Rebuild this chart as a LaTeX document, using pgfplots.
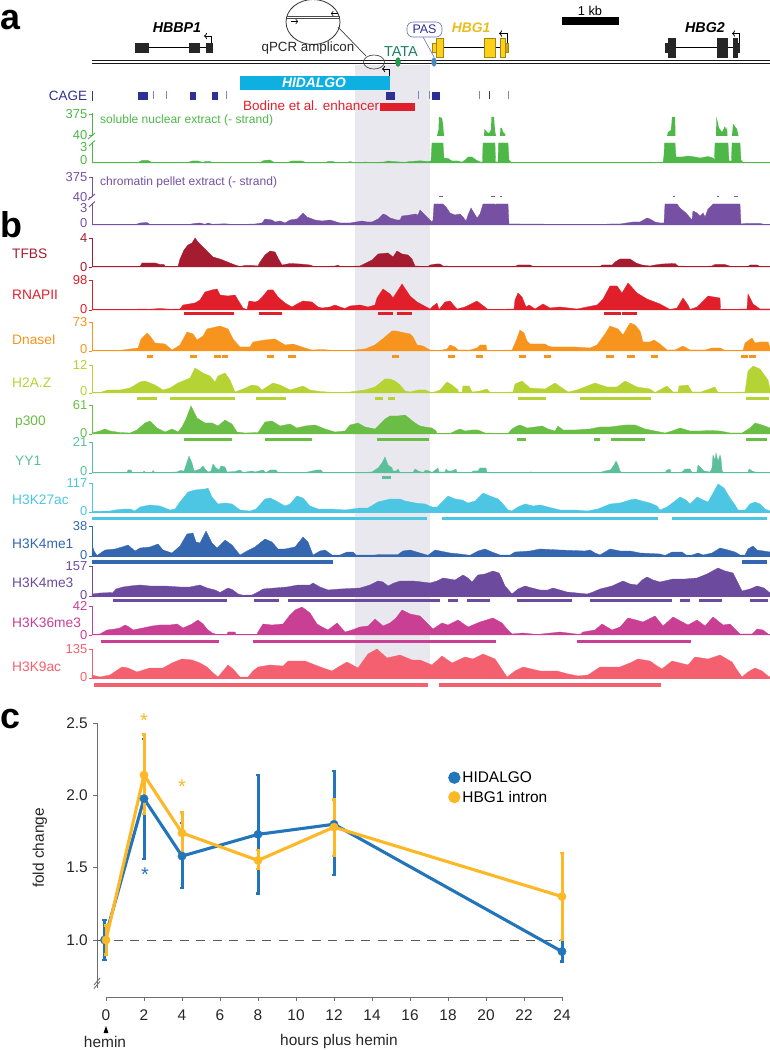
\documentclass[border=0pt]{standalone}
\usepackage{fontspec}
\setmainfont{Liberation Sans}
\usepackage{pgfplots}
\pgfplotsset{compat=1.18}
\usetikzlibrary{arrows.meta}

\definecolor{band}{HTML}{E8E8EE}
\definecolor{navy}{HTML}{2E3192}
\definecolor{cgreen}{HTML}{4DB848}
\definecolor{cpurple}{HTML}{7650A2}
\definecolor{ctfbs}{HTML}{A51C30}
\definecolor{crna}{HTML}{E01F2A}
\definecolor{cdnase}{HTML}{F7941D}
\definecolor{ch2az}{HTML}{B5D334}
\definecolor{cp300}{HTML}{6ABD45}
\definecolor{cyy1}{HTML}{5BBF9B}
\definecolor{ck27}{HTML}{4CC6E3}
\definecolor{cme1}{HTML}{3567B0}
\definecolor{cme3}{HTML}{6C4A9E}
\definecolor{ck36}{HTML}{C93F94}
\definecolor{ck9}{HTML}{F4606F}
\definecolor{hblue}{HTML}{2274BB}
\definecolor{hyell}{HTML}{FDB827}
\definecolor{axgray}{HTML}{6D6E71}
\definecolor{gold}{HTML}{FCD116}
\definecolor{goldt}{HTML}{E8BE1E}
\definecolor{ggreen}{HTML}{1F7F63}
\definecolor{hidal}{HTML}{0DB0E0}

\newcommand{\fs}[1]{\fontsize{#1}{#1}\selectfont}
% pixel canvas helpers, y counted from the top of the page
\newcommand{\rect}[6]{\addplot[fill=#1,draw=#6,line width=.4bp] coordinates {(#2,#3)(#4,#3)(#4,#5)(#2,#5)} --cycle;}
\newcommand{\seg}[2][black]{\addplot[#1] coordinates {#2};}
\newcommand{\txt}[4][]{\node[inner sep=0,#1] at (axis cs:#2,#3) {#4};}
\newcommand{\tname}[4]{\node[anchor=west,inner sep=0,text=#1,font=\fs{13.8}] at (axis cs:#2,#3) {#4};}

% one signal track: colour, baseline y, height, top label, lift of top label, lift of the 0, signal, peak bars
\newcommand{\track}[8]{%
\begin{axis}[at={(92bp,{(1050-#2)*1bp})},anchor=south west,scale only axis,
  width=678bp,height=#3bp,xmin=92,xmax=770,ymin=0,ymax=#3,clip=false,
  axis y line=left,axis x line=bottom,xtick=\empty,
  ytick={0,#3},yticklabels={\raisebox{#6bp}{0},\raisebox{#5bp}{#4}},tick align=outside,major tick length=3bp,
  tick style={draw=#1,line width=.8bp},
  axis line style={draw=#1,line width=1bp,-},
  yticklabel style={font=\fs{13},text=#1,inner xsep=1.5bp},
  unbounded coords=jump]
\addplot[fill=#1,draw=#1,line width=.3bp] coordinates {#7} \closedcycle;
\addplot[draw=#1,line width=3bp] coordinates {#8};
\end{axis}}

\begin{document}
\begin{tikzpicture}[x=1bp,y=1bp]
\path[use as bounding box] (0,0) rectangle (770bp,1050bp);

% --- canvas: band, gene models, labels
\begin{axis}[at={(0,0)},anchor=south west,scale only axis,width=770bp,height=1050bp,
  xmin=0,xmax=770,ymin=0,ymax=1050,y dir=reverse,hide axis,clip=false]
\addplot[fill=band,draw=none] coordinates {(355,65)(430,65)(430,678)(355,678)} --cycle;

\txt[anchor=base west,font=\fs{36}\bfseries]{0}{29}{a}
\txt[anchor=base west,font=\fs{36}\bfseries]{0}{237}{b}
\txt[anchor=base west,font=\fs{36}\bfseries]{0}{728}{c}

% chromosome
\seg[black!90,line width=1.1bp]{(92,60.3)(770,60.3)}
\seg[black!90,line width=1.1bp]{(92,63.3)(770,63.3)}
\txt[font=\fs{12.9}]{590}{11}{1 kb}
\rect{black}{562}{17}{618}{24}{black}

% HBBP1
\txt[font=\fs{14.3}\bfseries\itshape]{177}{28}{HBBP1}
\seg[black,line width=.9bp]{(148,47.5)(206,47.5)}
\rect{black!85}{135}{43}{148}{52}{black!85}
\rect{black!85}{189}{43}{199}{52}{black!85}
\rect{black!85}{206}{43}{212}{52}{black!85}
\seg[black,line width=.7bp,-{To[length=3bp]}]{(211,43)(211,36)(204,36)}

% HBG1
\txt[font=\fs{13.9}\bfseries\itshape,text=goldt]{471}{28}{HBG1}
\seg[black,line width=.9bp]{(443,47.5)(500,47.5)}
\rect{gold}{432}{43}{436.5}{52}{goldt!70!black}
\rect{gold}{436.5}{38}{443}{57}{goldt!70!black}
\rect{gold}{484}{38}{495}{57}{goldt!70!black}
\rect{gold}{500}{38}{505}{57}{goldt!70!black}
\rect{gold!80!black}{505}{43}{508}{52}{goldt!70!black}
\seg[black,line width=.7bp,-{To[length=3bp]}]{(507,43)(507,33.5)(499,33.5)}

% HBG2
\txt[font=\fs{14.3}\bfseries\itshape]{705}{28}{HBG2}
\seg[black,line width=.9bp]{(675,47.5)(733,47.5)}
\rect{black!85}{665}{43}{668}{52}{black!85}
\rect{black!85}{668}{38}{675}{57}{black!85}
\rect{black!85}{717}{38}{727}{57}{black!85}
\rect{black!85}{733}{38}{737}{57}{black!85}
\rect{black!85}{737}{43}{739.5}{52}{black!85}
\seg[black,line width=.7bp,-{To[length=3bp]}]{(739,43)(739,33.5)(732,33.5)}

% qPCR inset
\draw[black!80,line width=.8bp,fill=white] (axis cs:313,22) ellipse (27bp and 22.5bp);
\seg[black!70,line width=.9bp]{(287,16)(340,16)}
\seg[black!70,line width=.9bp]{(287,18.6)(340,18.6)}
\seg[black,line width=.6bp,-{To[length=2.5bp]}]{(291,21.5)(298,21.5)}
\seg[black,line width=.6bp,-{To[length=2.5bp]}]{(338,13.5)(331,13.5)}
\seg[black!75,line width=.7bp]{(338,27)(366,56)}
\draw[black!70,line width=.7bp] (axis cs:374,62) ellipse (10.5bp and 7bp);
\txt[font=\fs{13.4},text=black!85]{308}{48}{qPCR amplicon}

% TATA, PAS
\txt[font=\fs{14.5},text=ggreen]{401}{52}{TATA}
\draw[black!60,fill=ggreen!70!green,line width=.3bp] (axis cs:398,62) ellipse (2.5bp and 4.5bp);
\seg[navy!70,line width=.6bp]{(423,37)(434,57)}
\draw[navy!70,line width=.6bp,fill=white,rounded corners=6bp] (axis cs:407,22) rectangle (axis cs:442,37);
\txt[font=\fs{12.5},text=navy]{424.5}{29.5}{PAS}
\draw[navy!40,fill=blue!40!cyan!50!gray,line width=.3bp] (axis cs:434,62) ellipse (2.5bp and 4.5bp);

% HIDALGO lncRNA
\rect{hidal}{240}{76}{389}{89}{hidal}
\txt[font=\fs{13.9}\bfseries\itshape,text=white]{314}{82.8}{HIDALGO}
\seg[black,line width=.7bp,-{To[length=3bp]}]{(389,76)(389,69)(382,69)}

% CAGE
\txt[font=\fs{13.5},text=navy]{68}{96}{CAGE}
\seg[navy,line width=.7bp]{(92.5,91)(92.5,101)}
\rect{navy}{138}{92}{147}{99}{navy}
\rect{navy}{190.5}{92}{195}{99}{navy}
\rect{navy}{212}{92}{217}{99}{navy}
\rect{navy}{386}{92}{394}{99}{navy}
\rect{navy}{432}{92}{439}{99}{navy}
\seg[navy!60,line width=.6bp]{(153,91)(153,99)}
\seg[navy!60,line width=.6bp]{(166,91)(166,99)}
\seg[navy!60,line width=.6bp]{(226,91)(226,99)}
\seg[navy!60,line width=.6bp]{(418,91)(418,99)}
\seg[navy!60,line width=.6bp]{(429,91)(429,99)}
\seg[navy!60,line width=.6bp]{(479,91)(479,99)}
\seg[navy,line width=.7bp]{(489,91)(489,99)}
\seg[navy!60,line width=.6bp]{(508,91)(508,99)}

% Bodine
\txt[anchor=west,font=\fs{13.5},text=crna]{243}{105.5}{Bodine et al. enhancer}
\rect{crna}{380}{103}{414}{110}{crna}

% RNA track labels and breaks
\txt[anchor=west,font=\fs{12.1},text=cgreen]{100}{120}{soluble nuclear extract (- strand)}
\txt[anchor=west,font=\fs{12.1},text=cpurple]{100}{182}{chromatin pellet extract (- strand)}
\seg[cgreen,line width=.9bp]{(88,139)(95,133)}
\seg[cgreen,line width=.9bp]{(89,146)(95,140.5)}
\seg[cpurple,line width=.9bp]{(88,200)(95,194)}
\seg[cpurple,line width=.9bp]{(89,207)(95,201.5)}

% track names
\tname{ctfbs}{12}{254}{TFBS}
\tname{crna}{12}{295}{RNAPII}
\tname{cdnase}{12}{340}{DnaseI}
\tname{ch2az}{12}{383}{H2A.Z}
\tname{cp300}{15}{422}{p300}
\tname{cyy1}{15}{461}{YY1}
\tname{ck27}{12}{500}{H3K27ac}
\tname{cme1}{12}{544}{H3K4me1}
\tname{cme3}{12}{583}{H3K4me3}
\tname{ck36}{12}{623}{H3K36me3}
\tname{ck9}{12}{667}{H3K9ac}

% panel c annotations
\seg[axgray,line width=.9bp]{(94,985)(100,978)}
\seg[axgray,line width=.9bp]{(94,988.5)(100,981.5)}
\addplot[fill=black,draw=none] coordinates {(103.5,1033)(108.5,1033)(106,1026)} --cycle;
\txt[font=\fs{15.5},text=black!85]{105}{1042}{hemin}
\txt[font=\fs{15.5},text=black!85]{339}{1041}{hours plus hemin}
\txt[font=\fs{15.5},text=black!85,rotate=90]{40}{848}{fold change}
\end{axis}

% --- RNA-seq tracks (broken axes)
\begin{axis}[at={(92bp,{(1050-136)*1bp})},anchor=south west,scale only axis,width=678bp,height=23bp,
  xmin=92,xmax=770,ymin=0,ymax=23,clip=false,axis y line=left,axis x line=none,
  ytick={1,22},yticklabels={40,375},major tick length=3bp,tick align=outside,
  tick style={draw=cgreen,line width=.8bp},axis line style={draw=cgreen,line width=1bp,-},
  yticklabel style={font=\fs{13},text=cgreen,inner xsep=1.5bp}]
\addplot[fill=cgreen,draw=none] coordinates {(437,0)(438,5)(438.5,6)(439,19)(442,18)(443,12)(444,0)} --cycle;
\addplot[fill=cgreen,draw=none] coordinates {(484,0)(484.5,7)(488,3)(490,4)(491,7)(491.5,19)(494,19)(495,5)(496,0)} --cycle;
\addplot[fill=cgreen,draw=none] coordinates {(500,0)(500.5,8)(502,8)(503,4)(505,2)(505.5,0)} --cycle;
\addplot[fill=cgreen,draw=none] coordinates {(667,0)(668,4)(671,6)(672,19)(675,19)(675.5,0)} --cycle;
\addplot[fill=cgreen,draw=none] coordinates {(716,0)(716.5,19)(717.5,15)(719,8)(722,4)(725,10)(726,6)(727,9)(727.5,0)} --cycle;
\addplot[fill=cgreen,draw=none] coordinates {(732,0)(733,12)(734,11)(736,8)(737,7)(738,2)(738.5,0)} --cycle;
\end{axis}
\begin{axis}[at={(92bp,{(1050-163)*1bp})},anchor=south west,scale only axis,width=678bp,height=21bp,
  xmin=92,xmax=770,ymin=0,ymax=21,clip=false,axis y line=left,axis x line=bottom,xtick=\empty,
  ytick={3,16},yticklabels={0,3},major tick length=0bp,
  axis line style={draw=cgreen,line width=1bp,-},
  yticklabel style={font=\fs{13},text=cgreen,inner xsep=4.5bp}]
\addplot[fill=cgreen,draw=cgreen,line width=.3bp] coordinates {(92,.3)(138,.5)(142,2.5)(148,2.5)(152,.5)(188,.5)(192,2)(198,2)(203,.5)(205,1.5)(210,1.5)(213,.5)(260,.5)(264,2.5)(270,3)(274,.7)(288,.7)(292,2)(302,2)(306,.5)(325,.5)(328,1.5)(333,1.5)(336,.5)(347,.5)(350,1.5)(354,.5)(362,.5)(365,1)(372,.5)(384,1)(388,2)(393,1.5)(400,1)(405,.8)(410,1.5)(420,2.2)(428,1.5)(431,2)(432,20)(443,20)(444,5)(448,4.5)(452,2)(458,2)(462,.8)(465,3)(468,6)(472,6)(476,3)(480,1)(482.5,1)(483,20)(495,20)(495.5,1)(498,1)(498.5,20)(508,20)(509,3)(511,1)(513,.3)(620,.3)(628,.8)(632,.3)(646,.3)(650,1)(655,.3)(663,.3)(664,8)(664.5,20)(675,20)(676,6)(682,6)(688,7)(695,6)(700,5)(708,6.5)(713,5)(714.5,3)(715,20)(728,20)(729,2)(731.5,2)(732,20)(740,20)(741,3)(743,.5)(770,.3)} \closedcycle;
\end{axis}

\begin{axis}[at={(92bp,{(1050-197)*1bp})},anchor=south west,scale only axis,width=678bp,height=20bp,
  xmin=92,xmax=770,ymin=0,ymax=20,clip=false,axis y line=left,axis x line=none,
  ytick={0,20},yticklabels={40,375},major tick length=3bp,tick align=outside,
  tick style={draw=cpurple,line width=.8bp},axis line style={draw=cpurple,line width=1bp,-},
  yticklabel style={font=\fs{13},text=cpurple,inner xsep=1.5bp},unbounded coords=jump]
\addplot[draw=cpurple,line width=1.2bp] coordinates {(439,.5)(443,.5)(443,nan)(491,.5)(495,.5)(495,nan)(500,.5)(502,.5)(502,nan)(673,.5)(675,.5)(675,nan)(717,.5)(719,.5)(719,nan)(734,.5)(738,.5)};
\end{axis}
\begin{axis}[at={(92bp,{(1050-225)*1bp})},anchor=south west,scale only axis,width=678bp,height=22bp,
  xmin=92,xmax=770,ymin=0,ymax=22,clip=false,axis y line=left,axis x line=bottom,xtick=\empty,
  ytick={2,17},yticklabels={0,3},major tick length=0bp,
  axis line style={draw=cpurple,line width=1bp,-},
  yticklabel style={font=\fs{13},text=cpurple,inner xsep=4.5bp}]
\addplot[fill=cpurple,draw=cpurple,line width=.3bp] coordinates {(92,.3)(135,.3)(140,2)(147,2.5)(150,.5)(188,.5)(195,1.5)(200,2)(205,.7)(208,2)(212,.8)(225,1.2)(235,.5)(255,1)(262,2)(265,6)(272,5)(275,3)(280,4)(285,2)(290,5)(297,6)(303,12)(307,8)(315,5)(322,4)(330,5)(340,2)(350,2)(362,4)(367,3)(372,3)(378,6)(383,11)(386,10)(390,7)(397,5)(400,5)(402,9)(410,10)(415,11)(418,10)(420,15)(423,12)(428,7)(430,5)(432,3)(433,5)(434,21)(443,21)(446,18)(450,12)(455,10)(460,11)(463,8)(466,4)(468,10)(471,17)(474,12)(477,7)(480,11)(483,21)(495,21)(495.5,18)(496,21)(508,21)(509,1)(520,1)(600,.5)(610,1)(620,1)(633,3)(640,3)(647,7)(650,6)(655,3)(660,2)(664,2)(665,21)(677,21)(680,17)(686,12)(692,5)(693,14)(697,12)(700,9)(703,12)(705,8)(708,16)(713,21)(740,21)(741,1)(745,1.5)(760,1.5)(765,.5)(770,.3)} \closedcycle;
\end{axis}

% --- ChIP tracks
\track{ctfbs}{267}{29}{4}{0}{0}{(92,0)(140,.5)(142,4)(155,4)(160,2.5)(164,2.5)(165,.5)(178,.5)(180,8)(184,17)(188,22)(192,24)(195,29)(198,25)(203,20)(208,15)(213,10)(220,8)(225,6)(230,4)(235,2)(240,.5)(245,1.5)(252,1.5)(258,1)(260,5)(265,12)(270,16)(275,15)(278,9)(282,2)(290,3.5)(300,3)(310,2)(314,.5)(335,1)(338,2)(340,.5)(360,1)(364,3)(372,7)(378,13)(388,14)(393,10)(397,16)(402,13)(408,12)(412,8)(415,1)(428,.5)(430,2)(436,3)(440,3)(443,1)(460,.5)(515,.5)(518,2)(530,2)(533,.5)(600,.5)(602,2)(612,2)(615,5)(620,8)(630,8)(636,4)(642,2)(650,1)(655,2)(662,3)(675,3.5)(678,1)(700,.5)(712,1)(715,2.5)(725,2.5)(730,.8)(748,.5)(750,2)(757,2)(760,.5)(770,.3)}{(92,nan)(93,nan)}

\track{crna}{310}{30}{98}{-2}{3}{(92,.3)(130,.5)(140,1)(150,.8)(160,1.5)(170,.8)(180,1)(183,5)(195,7)(200,10)(205,18)(212,20)(217,21)(220,15)(228,14)(235,15)(238,10)(243,2)(247,.3)(249,9)(255,8)(258,9)(263,14)(268,20)(273,20)(278,13)(285,7)(292,3)(297,6)(303,9)(312,8)(318,3)(322,2)(330,3)(335,5)(340,3)(345,1.5)(350,4)(360,5)(368,3)(375,5)(377,12)(383,21)(390,16)(393,12)(402,26)(410,14)(417,8)(430,1)(432,3)(437,7)(439,.5)(445,8)(450,9)(457,1)(465,3)(477,9)(488,.5)(514,1)(515,10)(518,17)(522,13)(526,3)(529,5)(535,1)(543,6)(550,2)(560,3)(577,1)(597,5)(603,11)(610,24)(617,24)(622,17)(628,27)(637,17)(647,11)(660,6)(670,.5)(677,2)(683,12)(688,5)(690,.5)(697,3)(708,14)(720,12)(720.5,.5)(747,1)(748,16)(753,6)(760,1)(770,1)}{(184,-4)(234,-4)(234,nan)(259,-4)(282,-4)(282,nan)(378,-4)(393,-4)(393,nan)(397,-4)(412,-4)(412,nan)(604,-4)(621,-4)(621,nan)(622,-4)(637,-4)}

\track{cdnase}{351}{29}{73}{-1}{3.5}{(92,.2)(120,.5)(130,2)(138,3)(141,12)(147,18)(150,15)(155,8)(165,7)(172,1)(180,6)(187,19)(193,17)(197,11)(203,15)(207,22)(220,25)(228,22)(233,12)(240,4)(250,4)(253,9)(265,11)(275,12)(285,6)(293,7)(305,3)(312,1)(322,1.5)(335,.5)(350,.5)(365,2)(375,6)(385,14)(392,20)(396,20)(405,18)(410,17)(413,14)(417,6)(423,5)(430,1)(440,.5)(447,2)(450,6)(455,4)(458,1)(470,1)(477,3)(480,6)(486,6)(487,.5)(512,1)(516,10)(520,21)(524,18)(527,10)(530,7)(545,7)(548,5)(552,4)(565,4)(575,4)(590,3)(597,6)(605,17)(610,25)(618,22)(623,16)(630,28)(635,26)(640,20)(643,9)(650,9)(654,11)(660,7)(667,1)(675,1)(683,5)(690,1)(705,1)(712,3)(720,3)(725,.5)(743,.5)(745,8)(752,13)(755,8)(760,9)(768,9)(770,3)}{(147,-6)(153,-6)(153,nan)(190,-6)(197,-6)(197,nan)(214,-6)(221,-6)(221,nan)(222,-6)(228,-6)(228,nan)(267,-6)(274,-6)(274,nan)(288,-6)(296,-6)(296,nan)(392,-6)(399,-6)(399,nan)(448,-6)(455,-6)(455,nan)(476,-6)(483,-6)(483,nan)(519,-6)(526,-6)(526,nan)(544,-6)(551,-6)(551,nan)(606,-6)(614,-6)(614,nan)(627,-6)(635,-6)(635,nan)(651,-6)(658,-6)(658,nan)(741,-6)(748,-6)(748,nan)(749,-6)(756,-6)}

\track{ch2az}{393}{28}{12}{-1.5}{3.3}{(92,.5)(100,.5)(108,3)(120,3)(130,5)(140,11)(145,12)(155,8)(163,3)(170,5)(178,10)(190,15)(195,25)(203,20)(210,17)(215,11)(218,17)(225,20)(230,13)(235,1)(243,4)(252,8)(258,7)(262,3)(273,10)(280,8)(290,3)(303,7)(310,3)(320,1.5)(335,.5)(350,1)(365,3)(375,6)(385,14)(390,14)(395,12)(400,8)(405,2)(410,1)(418,3)(425,3)(430,1)(433,.5)(440,3)(447,11)(452,8)(458,3)(458.5,.5)(462,.5)(463,7)(469,7)(472,1)(480,2)(487,4)(490,.5)(513,1)(515,9)(522,12)(530,5)(545,4)(555,10)(562,5)(568,1)(577,3)(595,10)(607,6)(617,6)(625,12)(637,6)(650,4)(655,.5)(667,7)(673,1)(678,1)(679,7)(688,8)(692,1)(701,1)(715,6)(718,.5)(745,1)(748,22)(753,27)(760,24)(768,13)(770,4)}{(137,-6)(157,-6)(157,nan)(170,-6)(235,-6)(235,nan)(256,-6)(286,-6)(286,nan)(375,-6)(383,-6)(383,nan)(388,-6)(395,-6)(395,nan)(518,-6)(546,-6)(546,nan)(580,-6)(651,-6)(651,nan)(746,-6)(769,-6)}

\track{cp300}{434}{29}{61}{-3}{2.7}{(92,1)(100,3)(105,5)(110,3)(120,1.5)(130,1)(137,4)(145,11)(150,13)(157,6)(165,2)(172,5)(178,2)(182,7)(186,15)(191,28)(197,16)(205,11)(212,11)(218,8)(225,14)(232,10)(237,2)(245,1)(258,1.5)(265,12)(272,13)(280,8)(290,10)(297,6)(305,8)(315,9)(325,5)(335,2)(345,3)(350,9)(358,11)(365,7)(375,5)(385,15)(390,18)(398,18)(405,19)(410,15)(415,11)(420,8)(425,7)(432,6)(436,3)(437,.5)(450,.5)(455,3)(460,5)(465,3)(472,4)(478,4)(485,1)(495,.8)(508,.5)(512,5)(517,8)(520,9)(527,6)(535,7)(542,8)(548,5)(555,3)(558,8)(563,4)(575,4)(590,5)(600,7)(610,7)(625,9)(635,9)(645,5)(655,3)(665,1)(672,3)(680,6)(690,3)(700,3)(710,3.5)(720,3)(730,1)(742,1)(750,6)(755,11)(762,9)(770,6)}{(184,-6)(232,-6)(232,nan)(265,-6)(312,-6)(312,nan)(377,-6)(429,-6)(429,nan)(517,-6)(526,-6)(526,nan)(594,-6)(600,-6)(600,nan)(611,-6)(645,-6)(645,nan)(746,-6)(767,-6)}

\track{cyy1}{473}{31}{21}{-3.5}{4}{(92,.3)(127,.5)(128,3)(131,3)(132,.5)(143,.5)(144,2)(146,.3)(152,.3)(153,2.5)(155,.3)(177,1)(180,2.5)(184,2)(186,8)(189,17)(192,10)(194,2)(197,3)(200,4)(203,7)(205,4)(208,1)(211,2)(213,9)(216,5)(219,3)(221,7)(225,6)(227,1)(235,1.5)(240,3)(243,.5)(252,2)(255,1)(263,3)(266,.3)(270,3)(276,3)(278,.3)(296,.5)(305,.5)(317,3)(321,3)(323,.3)(360,.5)(372,1)(378,5)(382,10)(385,16)(388,8)(392,5)(393,2)(396,2)(398,4)(400,.5)(413,.5)(415,4)(418,2)(423,.5)(425,2.5)(428,2.5)(432,.5)(434,2)(438,5)(439,1)(445,1)(446,4)(448,2)(452,2)(456,4)(457,.5)(472,.5)(473,2)(478,2)(480,5)(486,5)(487,.3)(527,.5)(530,1)(540,.3)(600,.5)(605,2)(610,3)(612,5)(614,8)(616,12)(618,8)(620,2)(622,.3)(665,.3)(667,3)(670,4)(671,.3)(682,1)(685,4)(690,4)(692,.5)(697,1)(698,8)(701,5)(704,2)(710,1)(712,5)(713,18)(715,13)(716,20)(718,12)(720,18)(721,14)(722,3)(723,.3)(748,.3)(749,4)(752,2)(755,1)(770,.3)}{(382,-5)(391,-5)}

\track{ck27}{512}{29}{117}{-3}{3}{(92,.5)(110,1)(115,2)(125,3)(130,3)(135,1)(140,5)(150,7)(160,6)(165,4)(170,2)(175,3)(180,10)(188,20)(195,22)(205,23)(208,24)(212,15)(218,8)(225,9)(232,8)(240,2)(250,1)(256,3)(265,13)(270,14)(278,10)(285,6)(290,8)(297,16)(303,14)(310,6)(318,3)(330,3)(345,2)(360,4)(368,4)(378,10)(390,13)(400,13)(405,11)(415,9)(425,8)(432,5)(437,5)(442,10)(448,16)(455,13)(462,12)(468,9)(475,11)(483,19)(490,16)(498,13)(503,8)(508,2)(512,1)(518,5)(525,8)(533,6)(540,7)(548,5)(560,2)(575,2)(587,1)(598,3)(610,8)(620,9)(630,12)(635,13)(642,11)(650,9)(657,6)(660,2)(667,5)(675,11)(680,15)(686,12)(690,8)(697,15)(703,12)(708,10)(712,17)(718,28)(724,24)(730,14)(735,7)(738,2)(745,2)(750,8)(755,10)(760,8)(765,3)(770,1)}{(92,-6.5)(427,-6.5)(427,nan)(442,-6.5)(658,-6.5)(658,nan)(672,-6.5)(767,-6.5)}

\track{cme1}{556}{30}{38}{-3}{2.7}{(92,.5)(92.5,10)(94,5)(97,.5)(105,6)(115,7)(122,9)(128,11)(135,5)(140,8)(150,9)(158,12)(163,6)(172,3)(180,10)(187,22)(193,23)(196,14)(200,13)(206,25)(212,13)(217,8)(225,16)(232,11)(240,1)(247,5)(255,9)(265,17)(272,14)(278,7)(285,7)(295,9)(303,19)(308,14)(313,1)(320,5)(325,6)(332,1)(340,1)(347,4)(353,4)(356,1)(375,1)(380,1.5)(398,1.5)(403,5)(410,6)(420,3)(428,.7)(435,6)(440,5)(450,3)(460,2)(470,.7)(478,5)(485,7)(492,4)(500,1)(510,1)(515,4)(530,5)(540,7)(560,6)(585,5)(590,6)(595,3)(600,1)(605,4)(610,7)(620,5)(630,5)(640,3)(660,2)(665,.5)(672,4)(682,4)(686,1)(692,1)(698,3)(703,1)(712,3)(720,8)(728,6)(735,4)(740,1)(745,1)(748,7)(753,10)(757,6)(770,4)}{(92,-6)(333,-6)(333,nan)(742,-6)(767,-6)}

\track{cme3}{596}{30}{157}{-3}{3}{(92,2)(100,3)(113,3.5)(116,7)(123,9)(130,10)(140,11)(150,10)(165,10)(180,9)(190,9)(200,11)(207,8)(215,6)(220,3.5)(228,8)(233,6)(238,2)(243,.8)(252,1)(258,4)(263,7)(275,8)(287,9)(298,11)(310,11)(313,13)(320,9)(328,6)(340,7)(360,8)(370,11)(378,15)(383,14)(388,10)(394,13)(400,15)(413,15)(422,14)(430,13)(437,15)(443,18)(449,17)(455,16)(463,21)(468,18)(472,14)(478,21)(485,22)(493,25)(499,23)(502,17)(505,10)(512,2)(518,7)(525,10)(532,8)(540,6)(548,6)(553,8)(560,6)(567,4)(577,3)(587,2)(593,4)(600,7)(612,10)(623,15)(630,12)(637,11)(642,16)(647,19)(653,16)(660,14)(673,17)(685,17)(697,18)(707,22)(718,28)(725,25)(733,23)(737,15)(742,5)(750,7)(757,10)(764,8)(770,3)}{(113,-4.5)(227,-4.5)(227,nan)(254,-4.5)(279,-4.5)(279,nan)(288,-4.5)(440,-4.5)(440,nan)(448,-4.5)(458,-4.5)(458,nan)(467,-4.5)(490,-4.5)(490,nan)(517,-4.5)(572,-4.5)(572,nan)(590,-4.5)(672,-4.5)(672,nan)(680,-4.5)(690,-4.5)(690,nan)(699,-4.5)(722,-4.5)(722,nan)(750,-4.5)(768,-4.5)}

\track{ck36}{635}{29}{42}{-3.5}{-2}{(92,.5)(100,1)(107,5)(115,6)(120,7)(125,10)(129,8)(133,5)(143,7)(152,9)(160,10)(170,10)(177,11)(183,7)(192,11)(198,15)(203,11)(207,6)(212,2)(217,.5)(227,.5)(228,3)(235,3)(236,.3)(257,.5)(258,3)(263,11)(272,10)(283,11)(290,20)(295,25)(302,28)(310,22)(317,11)(322,8)(328,5)(337,12)(345,3)(352,5)(360,8)(368,9)(375,16)(383,9)(390,12)(396,17)(402,25)(410,21)(420,19)(427,12)(433,6)(442,12)(448,10)(458,15)(468,8)(480,13)(493,17)(502,12)(507,6)(512,1)(523,2)(537,.5)(560,3)(580,.5)(583,3)(595,5)(602,11)(612,5)(620,8)(628,17)(636,15)(643,13)(655,19)(663,9)(673,18)(688,10)(697,15)(705,9)(713,18)(723,10)(730,11)(740,1)(752,1)(757,6)(763,5)(768,1)(770,.5)}{(101,-7)(219,-7)(219,nan)(253,-7)(496,-7)(496,nan)(577,-7)(691,-7)}

\track{ck9}{678}{29}{135}{-2.7}{1.7}{(92,3)(100,1)(110,3)(116,7)(122,11)(128,10)(137,6)(150,10)(157,10)(163,10)(172,15)(182,19)(192,18)(200,15)(207,11)(212,6)(218,1)(228,13)(233,9)(240,1)(248,1)(253,7)(258,11)(270,13)(283,12)(288,17)(305,17)(315,13)(323,10)(332,7)(340,12)(347,16)(358,10)(363,17)(368,24)(377,29)(387,20)(400,23)(412,18)(420,18)(432,13)(442,22)(452,15)(465,21)(473,19)(483,24)(495,19)(501,10)(507,1)(515,7)(523,11)(540,7)(557,7)(568,4)(578,2)(588,3)(600,11)(620,11)(630,15)(638,19)(650,17)(657,12)(662,9)(672,17)(688,13)(695,21)(708,19)(720,23)(732,16)(737,8)(742,1)(748,6)(755,10)(762,7)(768,2)(770,1)}{(94,-7)(428,-7)(428,nan)(439,-7)(661,-7)}

% --- panel c: x axis
\begin{axis}[at={(106bp,{(1050-997)*1bp})},anchor=south west,scale only axis,width=456bp,height=10bp,
  xmin=0,xmax=24,ymin=0,ymax=1,axis x line=bottom,axis y line=none,
  xtick={0,2,...,24},tick align=outside,major tick length=4bp,
  tick style={draw=axgray,line width=.9bp},axis line style={draw=axgray,line width=1bp,-},
  xticklabel style={font=\fs{15.5},text=black!85,inner sep=0,yshift=-9bp},
  /pgf/number format/assume math mode=true]
\addplot[draw=none] coordinates {(0,0)(24,0)};
\end{axis}

% --- panel c: data with y axis
\begin{axis}[at={(97bp,{(1050-988)*1bp})},anchor=south west,scale only axis,width=465bp,height=265bp,
  xmin=-0.474,xmax=24,ymin=0.668,ymax=2.5,clip=false,axis y line=left,axis x line=none,
  ytick={1,1.5,2,2.5},yticklabels={1.0,1.5,2.0,2.5},tick align=outside,major tick length=4bp,
  tick style={draw=axgray,line width=.9bp},axis line style={draw=axgray,line width=1bp,-},
  yticklabel style={font=\fs{15.5},text=black!85,inner xsep=5bp},
  legend style={at={(0.755,0.825)},anchor=north west,draw=none,fill=none,
    font=\fs{15.5},row sep=3bp,inner sep=0pt,
    /tikz/every even column/.append style={column sep=5bp}},
  legend cell align=left,
  legend image code/.code={\fill[#1] (0bp,0bp) circle (4.5bp);},
  error bars/error bar style={line width=3bp},
  error bars/error mark options={rotate=90,mark size=2.4bp,line width=2.4bp}]
\addplot[forget plot,draw=black!65,line width=.8bp,dash pattern=on 9bp off 7.5bp] coordinates {(-0.474,1)(24,1)};
\addplot[color=hblue,line width=3.1bp,mark=*,mark size=4.2bp,mark options={line width=.3bp},
  error bars/.cd,y dir=both,y explicit,
  error bar style={line width=3bp,draw=hblue}]
 coordinates {
 (-0.08,1.00) += (0,0.14) -= (0,0.14)
 (2,1.977) += (0,0.413) -= (0,0.417)
 (4,1.58) += (0,0.23) -= (0,0.22)
 (8,1.73) += (0,0.41) -= (0,0.41)
 (12,1.80) += (0,0.37) -= (0,0.35)
 (24,0.92) += (0,0.08) -= (0,0.07)
 };
\addlegendentry{HIDALGO}
\addplot[color=hyell,line width=3.1bp,mark=*,mark size=4.2bp,mark options={line width=.3bp},
  error bars/.cd,y dir=both,y explicit,
  error bar style={line width=3bp,draw=hyell}]
 coordinates {
 (0,1.00) += (0,0.10) -= (0,0.10)
 (2,2.14) += (0,0.28) -= (0,0.27)
 (4,1.74) += (0,0.14) -= (0,0.14)
 (8,1.55) += (0,0.07) -= (0,0.06)
 (12,1.78) += (0,0.19) -= (0,0.20)
 (24,1.30) += (0,0.30) -= (0,0.30)
 };
\addlegendentry{HBG1 intron}
\node[text=hyell,font=\fs{20},inner sep=0] at (axis cs:2,2.515) {*};
\node[text=hyell,font=\fs{20},inner sep=0] at (axis cs:4,2.06) {*};
\node[text=hblue,font=\fs{20},inner sep=0] at (axis cs:2.05,1.455) {*};
\end{axis}
\end{tikzpicture}
\end{document}
